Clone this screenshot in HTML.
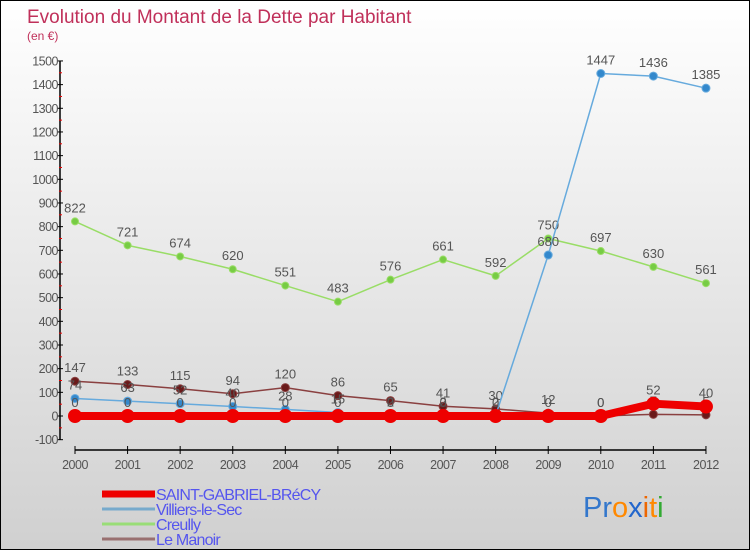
<!DOCTYPE html>
<html><head><meta charset="utf-8"><style>
body{margin:0;}
#wrap{position:relative;width:748px;height:548px;border:1px solid #000;background:linear-gradient(#ffffff,#d0d0d0);font-family:"Liberation Sans",sans-serif;overflow:hidden}
</style></head><body>
<div id="wrap">
<svg id="c" width="748" height="548"></svg>
</div>
<script>
const years=[2000,2001,2002,2003,2004,2005,2006,2007,2008,2009,2010,2011,2012];
const saint=[0,0,0,0,0,0,0,0,0,0,0,52,40];
const villiers=[74,63,52,40,28,15,2,2,2,680,1447,1436,1385];
const creully=[822,721,674,620,551,483,576,661,592,750,697,630,561];
const manoir=[147,133,115,94,120,86,65,41,30,12,0,7,5];
const yTicks=[-100,0,100,200,300,400,500,600,700,800,900,1000,1100,1200,1300,1400,1500];
const seriesNames=["SAINT-GABRIEL-BRéCY","Villiers-le-Sec","Creully","Le Manoir"];
const NS="http://www.w3.org/2000/svg";
const svg=document.getElementById('c');
const X=i=>74+i*52.58;
const Y=v=>415-v*0.2367;
function el(t,a,p){const e=document.createElementNS(NS,t);for(const k in a)e.setAttribute(k,a[k]);(p||svg).appendChild(e);return e;}
function tx(x,y,s,a,p){const e=el('text',a,p);e.setAttribute('x',x);e.setAttribute('y',y);e.textContent=s;return e;}
let t=tx(26,22,"Evolution du Montant de la Dette par Habitant",{fill:"#c0305a","font-size":"19"});


t=tx(26,39,"(en €)",{fill:"#c0305a","font-size":"12"});


let ax=el('line',{x1:59,y1:Y(1500),x2:59,y2:Y(-100),stroke:"#000","stroke-width":1.5});


ax=el('line',{x1:X(0),y1:449,x2:X(12),y2:449,stroke:"#000","stroke-width":1.5});


yTicks.forEach(v=>{
  el('line',{x1:56,y1:Y(v),x2:62,y2:Y(v),stroke:"#000"});
  if(v<1500)el('line',{x1:58,y1:Y(v+50),x2:61,y2:Y(v+50),stroke:"#e00"});
  const l=tx(57,Y(v)+4.5,String(v),{fill:"#555","font-size":"12.5","text-anchor":"end","letter-spacing":"-0.5"});
  
  
});
years.forEach((y,i)=>{
  el('line',{x1:X(i),y1:445,x2:X(i),y2:453,stroke:"#000"});
  const l=tx(X(i),468,String(y),{fill:"#555","font-size":"12.5","text-anchor":"middle","letter-spacing":"-0.5"});
  
  
});
function series(data,color,w,r,dot,name,labels){
  const g=el('g',{});
  
  
  el('polyline',{points:data.map((v,i)=>X(i)+","+Y(v)).join(" "),fill:"none",stroke:color,"stroke-width":w,"stroke-linejoin":"round"},g);
  data.forEach((v,i)=>{
    const c=el('circle',{cx:X(i),cy:Y(v),r:r,fill:dot,stroke:color,"stroke-width":1},g);
    
    
    if(labels){const l=tx(X(i),Y(v)-9,String(v),{fill:"#555","font-size":"13","text-anchor":"middle"},g);
      
      }
  });
}
series(creully,"#99dd66",1.5,3.5,"#77cc44","creully-series",true);
series(manoir,"#8a4040",1.5,4,"#6a1a1a","le-manoir-series",true);
series(villiers,"#66aadd",1.5,4,"#3388cc","villiers-series",true);
series(saint,"#ee0000",8,6.5,"#ee0000","saint-gabriel-series",true);
const lc=["#ee0000","#77aacc","#99dd77","#997070"],lw=[7,3,3,3];
seriesNames.forEach((n,i)=>{
  const y=493+i*15;
  const g=el('g',{});
  
  
  el('line',{x1:101,y1:y,x2:154,y2:y,stroke:lc[i],"stroke-width":lw[i]},g);
  tx(155,y+6,n,{fill:"#5555ee","font-size":"16","letter-spacing":"-0.8"},g);
});
const lg=el('text',{x:582,y:516,"font-size":"29","font-family":"Liberation Sans, sans-serif"});


[["Pr","#3377cc"],["o","#ff8800"],["x","#2266cc"],["i","#ee6600"],["t","#ff8800"],["i","#33aa33"]].forEach(([s,c])=>{const sp=el('tspan',{fill:c},lg);sp.textContent=s;});
</script>
</body></html>
